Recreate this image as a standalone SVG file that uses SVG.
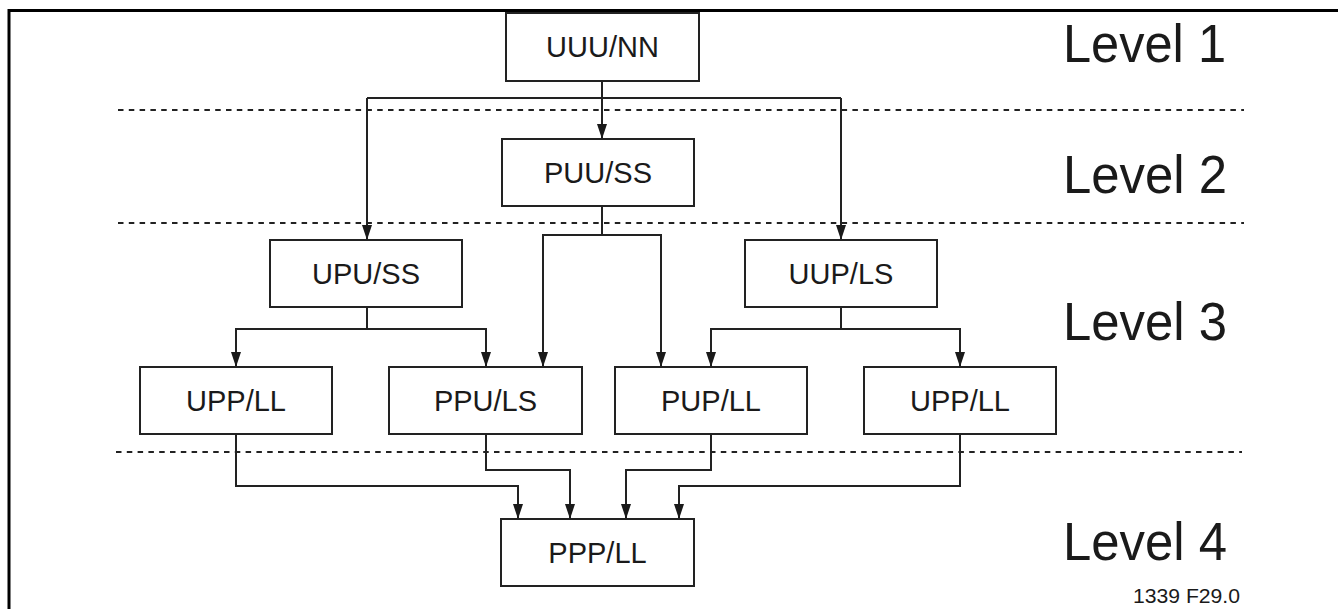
<svg xmlns="http://www.w3.org/2000/svg" width="1338" height="609" viewBox="0 0 1338 609">
<defs>
<style>
.box rect{fill:#fff;stroke:#222;stroke-width:2}
.box text{font-family:"Liberation Sans",Arial,sans-serif;font-size:29px;fill:#1a1a1a;text-anchor:middle}
.lvl{font-family:"Liberation Sans",Arial,sans-serif;font-size:53px;fill:#1a1a1a}
.dash{stroke:#222;stroke-width:2;stroke-dasharray:5.5 5.3;fill:none}
.conn path{fill:none;stroke:#222;stroke-width:2}
.conn path.a{marker-end:url(#arr)}
</style>
<marker id="arr" viewBox="0 0 15 10" refX="15" refY="5" markerWidth="15" markerHeight="10" markerUnits="userSpaceOnUse" orient="auto">
<path d="M0,0 L15,5 L0,10 Z" fill="#1a1a1a"/>
</marker>
</defs>
<rect x="0" y="0" width="1338" height="609" fill="#fff"/>
<path d="M9,609 V10.5 H1338" fill="none" stroke="#000" stroke-width="3"/>
<g id="separators">
<line class="dash" x1="118" y1="110" x2="1244" y2="110"/>
<line class="dash" x1="118" y1="223" x2="1244" y2="223"/>
<line class="dash" x1="116" y1="452" x2="1242" y2="452"/>
</g>
<g class="conn" id="connectors">
<path class="a" d="M602,81 V139"/>
<path d="M367,98 H841"/>
<path class="a" d="M367,98 V240"/>
<path class="a" d="M841,98 V240"/>
<path d="M602,206 V235 H661"/>
<path class="a" d="M602,235 H543 V367"/>
<path class="a" d="M602,235 H661 V367"/>
<path d="M367,307 V329"/>
<path class="a" d="M367,329 H236 V367"/>
<path class="a" d="M367,329 H486 V367"/>
<path d="M841,307 V329"/>
<path class="a" d="M841,329 H711 V367"/>
<path class="a" d="M841,329 H960 V367"/>
<path class="a" d="M236,434 V486 H518 V519"/>
<path class="a" d="M486,434 V470 H570 V519"/>
<path class="a" d="M711,434 V470 H626 V519"/>
<path class="a" d="M960,434 V486 H679 V519"/>
</g>
<g id="n-uuunn" class="box"><rect x="506" y="13" width="193" height="68"/><text x="602.5" y="57">UUU/NN</text></g>
<g id="n-puuss" class="box"><rect x="502" y="139" width="192" height="67"/><text x="598" y="183">PUU/SS</text></g>
<g id="n-upuss" class="box"><rect x="270" y="240" width="192" height="67"/><text x="366" y="284">UPU/SS</text></g>
<g id="n-uupls" class="box"><rect x="745" y="240" width="192" height="67"/><text x="841" y="284">UUP/LS</text></g>
<g id="n-uppll-1" class="box"><rect x="140" y="367" width="192" height="67"/><text x="236" y="411">UPP/LL</text></g>
<g id="n-ppuls" class="box"><rect x="389" y="367" width="193" height="67"/><text x="485.5" y="411">PPU/LS</text></g>
<g id="n-pupll" class="box"><rect x="615" y="367" width="192" height="67"/><text x="711" y="411">PUP/LL</text></g>
<g id="n-uppll-2" class="box"><rect x="864" y="367" width="192" height="67"/><text x="960" y="411">UPP/LL</text></g>
<g id="n-pppll" class="box"><rect x="501" y="519" width="193" height="67"/><text x="597.5" y="563">PPP/LL</text></g>
<g id="levels">
<text class="lvl" x="1063" y="62" textLength="163" lengthAdjust="spacingAndGlyphs">Level 1</text>
<text class="lvl" x="1063" y="193" textLength="164" lengthAdjust="spacingAndGlyphs">Level 2</text>
<text class="lvl" x="1063" y="340" textLength="164" lengthAdjust="spacingAndGlyphs">Level 3</text>
<text class="lvl" x="1063" y="560" textLength="164" lengthAdjust="spacingAndGlyphs">Level 4</text>
</g>
<text x="1133" y="603" font-family="Liberation Sans, Arial, sans-serif" font-size="20" fill="#1a1a1a" textLength="107" lengthAdjust="spacingAndGlyphs">1339 F29.0</text>
</svg>
